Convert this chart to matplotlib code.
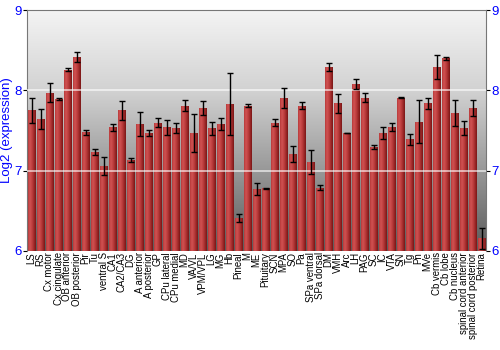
import matplotlib
matplotlib.use("Agg")
import matplotlib.pyplot as plt
import numpy as np
from matplotlib.colors import LinearSegmentedColormap

plt.rcParams['font.family'] = ['Liberation Sans', 'DejaVu Sans']

regions = ["LS", "RS", "Cx motor", "Cx cingulate", "OB anterior", "OB posterior",
           "Pir", "Tu", "ventral S", "CA1", "CA2/CA3", "DG", "A anterior",
           "A posterior", "GP", "CPu lateral", "CPu medial", "MD", "VA/VL",
           "VPM/VPL", "LG", "MG", "Hb", "Pineal", "M", "ME", "Pituitary", "SCN",
           "MPA", "SO", "Pa", "SPa ventral", "SPa dorsal", "DM", "VMH", "Arc",
           "LH", "PAG", "SC", "IC", "VTA", "SN", "Tg", "Pn", "MVe", "Cb vermis",
           "Cb lobe", "Cb nucleus", "spinal cord anterior",
           "spinal cord posterior", "Retina"]

expression = [7.75, 7.64, 7.97, 7.89, 8.26, 8.42, 7.48, 7.23, 7.06, 7.54,
              7.75, 7.13, 7.58, 7.47, 7.60, 7.54, 7.53, 7.81, 7.47, 7.78,
              7.53, 7.58, 7.83, 6.41, 7.81, 6.77, 6.78, 7.60, 7.90, 7.21,
              7.81, 7.11, 6.79, 8.29, 7.84, 7.47, 8.08, 7.91, 7.29, 7.47,
              7.54, 7.91, 7.39, 7.61, 7.84, 8.29, 8.40, 7.72, 7.53, 7.78,
              6.16]

error = [0.16, 0.125, 0.12, 0.01, 0.02, 0.06, 0.03, 0.04, 0.11, 0.045,
         0.12, 0.025, 0.145, 0.04, 0.055, 0.09, 0.06, 0.07, 0.24, 0.085,
         0.08, 0.075, 0.39, 0.05, 0.02, 0.075, 0.01, 0.045, 0.125, 0.10,
         0.045, 0.15, 0.035, 0.05, 0.12, 0.005, 0.065, 0.055, 0.025, 0.07,
         0.05, 0.005, 0.07, 0.27, 0.07, 0.15, 0.015, 0.165, 0.09, 0.10,
         0.13]

fig = plt.figure(figsize=(5, 3.5), dpi=100)
ax = fig.add_axes([0.054, 0.283, 0.918, 0.688])

x = np.arange(len(regions))
ymin, ymax = 6, 9

# background gradient
bg = LinearSegmentedColormap.from_list("bg", ["#5a5a5a", "#989898", "#d2d2d2", "#f4f4f4"])
grad = np.linspace(0, 1, 256).reshape(-1, 1)
ax.imshow(grad, cmap=bg, aspect="auto", origin="lower",
          extent=[0, 1, 0, 1], transform=ax.transAxes, zorder=0)

bars = ax.bar(x, np.array(expression) - ymin, bottom=ymin, width=0.86,
              color="#b53434", edgecolor="none", zorder=2)

# horizontal shading on each bar
barmap = LinearSegmentedColormap.from_list("bar", ["#b83a3a", "#d05252", "#c04040",
                                                   "#a02a2a", "#7a1616"])
hgrad = np.linspace(0, 1, 64).reshape(1, -1)
for b in bars:
    x0, y0 = b.get_x(), b.get_y()
    im = ax.imshow(hgrad, cmap=barmap, aspect="auto",
                   extent=[x0, x0 + b.get_width(), y0, y0 + b.get_height()], zorder=2)
    im.set_clip_path(b)

ax.errorbar(x, expression, yerr=error, fmt="none", ecolor="black",
            elinewidth=1, capsize=2, capthick=1, zorder=4)

for yv in [7, 8]:
    ax.axhline(yv, color="white", lw=1.2, alpha=0.7, zorder=3)

ax.set_xlim(-0.5, len(regions) - 0.5)
ax.set_ylim(ymin, ymax)
ax.set_yticks([6, 7, 8, 9])
ax.set_xticks(x)
ax.set_xticklabels(regions, rotation=90, fontsize=6.9)
ax.tick_params(axis="x", length=0, pad=1)
ax.tick_params(axis="y", labelcolor="blue", labelsize=9.5, length=3,
               right=True, labelright=True, pad=1)
ax.set_ylabel("Log2 (expression)", color="blue", fontsize=9.5, labelpad=1)

for s in ["top", "left", "right"]:
    ax.spines[s].set_color("#777777")
ax.spines["bottom"].set_visible(False)

fig.savefig("out.png", dpi=100)
